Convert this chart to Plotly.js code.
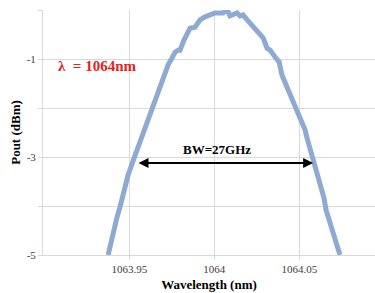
<!DOCTYPE html>
<html><head><meta charset="utf-8">
<script src="https://cdn.plot.ly/plotly-3.0.1.min.js"></script>
<style>html,body{margin:0;padding:0;background:#fff}#c{width:375px;height:293px}</style>
</head><body><div id="c"></div>
<script>
const wavelength = [1063.9375,1063.9386,1063.9398,1063.9410,1063.9428,1063.9445,1063.9463,1063.9475,1063.9492,1063.9510,1063.9522,1063.9534,1063.9545,1063.9563,1063.9580,1063.9592,1063.9605,1063.9622,1063.9639,1063.9651,1063.9669,1063.9692,1063.9710,1063.9728,1063.9751,1063.9769,1063.9786,1063.9798,1063.9822,1063.9845,1063.9857,1063.9886,1063.9916,1063.9945,1063.9975,1064.0004,1064.0034,1064.0051,1064.0063,1064.0081,1064.0092,1064.0116,1064.0134,1064.0151,1064.0169,1064.0193,1064.0222,1064.0240,1064.0257,1064.0287,1064.0310,1064.0328,1064.0357,1064.0381,1064.0398,1064.0422,1064.0445,1064.0463,1064.0481,1064.0498,1064.0516,1064.0534,1064.0545,1064.0563,1064.0581,1064.0598,1064.0616,1064.0634,1064.0645,1064.0657,1064.0675,1064.0692,1064.0710,1064.0722,1064.0739];
const pout = [-5.00,-4.82,-4.63,-4.45,-4.22,-4.02,-3.82,-3.61,-3.37,-3.16,-3.06,-2.96,-2.86,-2.69,-2.51,-2.35,-2.24,-2.08,-1.94,-1.84,-1.63,-1.43,-1.27,-1.12,-0.98,-0.86,-0.82,-0.82,-0.61,-0.41,-0.37,-0.35,-0.20,-0.14,-0.10,-0.06,-0.06,-0.06,-0.02,-0.04,-0.12,-0.10,-0.06,-0.12,-0.10,-0.20,-0.31,-0.41,-0.45,-0.57,-0.78,-0.82,-0.96,-1.06,-1.33,-1.53,-1.69,-1.84,-1.98,-2.14,-2.29,-2.45,-2.61,-2.82,-3.02,-3.22,-3.43,-3.63,-3.84,-4.08,-4.29,-4.49,-4.69,-4.86,-5.00];
const xTickVals = [1063.95, 1064, 1064.05];
const xTickText = ['1063.95', '1064', '1064.05'];
const yTickVals = [-5, -4, -3, -2, -1, 0];
const yTickText = ['-5', '', '-3', '', '-1', ''];
const bwStart = 1063.9545, bwEnd = 1064.0581, bwLevel = -3.12;

const font = 'Liberation Serif';
Plotly.newPlot('c', [{
  x: wavelength, y: pout, type: 'scatter', mode: 'lines',
  line: {color: '#8eaad2', width: 5}, cliponaxis: true, hoverinfo: 'skip'
}], {
  width: 375, height: 293,
  margin: {l: 43, r: 0, t: 10, b: 38},
  paper_bgcolor: '#fff', plot_bgcolor: '#fff',
  showlegend: false,
  font: {family: font},
  xaxis: {
    range: [1063.8992, 1064.0945], tickvals: xTickVals, ticktext: xTickText,
    showgrid: true, gridcolor: '#d9d9d9', gridwidth: 1, zeroline: false,
    showline: true, linecolor: '#d9d9d9', linewidth: 1,
    ticks: 'outside', ticklen: 4, tickcolor: '#d9d9d9',
    tickfont: {family: font, size: 11, color: '#404040'},
    automargin: true,
    title: {text: '<b>Wavelength (nm)</b>', font: {family: font, size: 13, color: '#000'}, standoff: 5}
  },
  yaxis: {
    range: [-5, 0], tickvals: yTickVals, ticktext: yTickText,
    showgrid: true, gridcolor: '#d9d9d9', gridwidth: 1, zeroline: false,
    showline: true, linecolor: '#d9d9d9', linewidth: 1,
    ticks: 'outside', ticklen: 4, tickcolor: '#d9d9d9',
    tickfont: {family: font, size: 11, color: '#404040'},
    automargin: true,
    title: {text: '<b>Pout (dBm)</b>', font: {family: font, size: 13, color: '#000'}, standoff: 3}
  },
  annotations: [
    {x: bwEnd, y: bwLevel, ax: bwStart, ay: bwLevel, axref: 'x', ayref: 'y', xref: 'x', yref: 'y',
     text: '', showarrow: true, arrowside: 'end+start', arrowhead: 2, arrowsize: 1, arrowwidth: 2, arrowcolor: '#000'},
    {x: 1064.0018, y: bwLevel + 0.28, xref: 'x', yref: 'y', text: '<b>BW=27GHz</b>', showarrow: false,
     font: {family: font, size: 13, color: '#000'}},
    {x: 1063.907, y: -1.14, xref: 'x', yref: 'y', xanchor: 'left', text: '<b>λ  = 1064nm</b>', showarrow: false,
     font: {family: font, size: 15, color: '#e8201f'}}
  ]
}, {staticPlot: true, displayModeBar: false});
</script></body></html>
